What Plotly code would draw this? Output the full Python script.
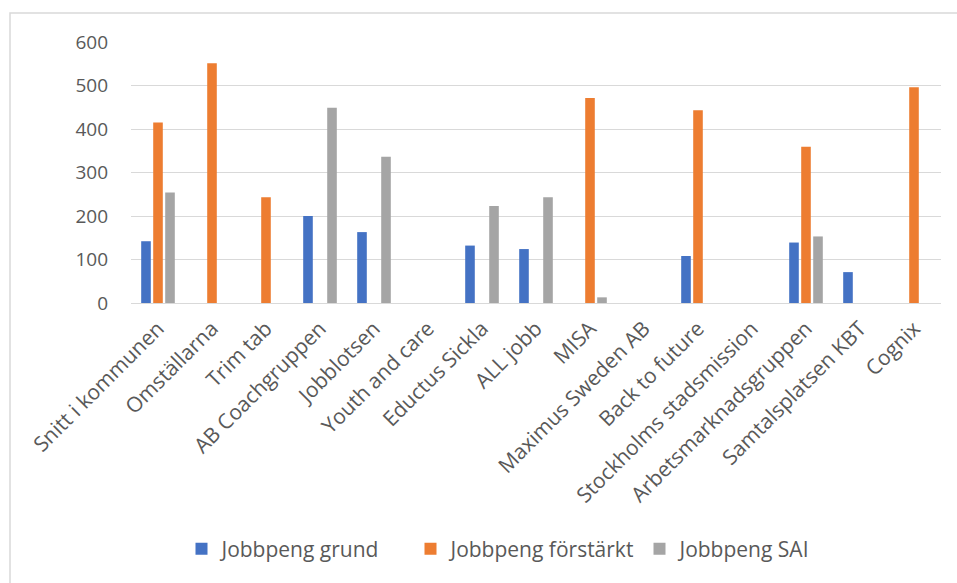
import plotly.graph_objects as go

categories = ["Snitt i kommunen", "Omställarna", "Trim tab", "AB Coachgruppen", "Jobblotsen",
              "Youth and care", "Eductus Sickla", "ALL jobb", "MISA", "Maximus Sweden AB",
              "Back to future", "Stockholms stadsmission", "Arbetsmarknadsgruppen",
              "Samtalsplatsen KBT", "Cognix"]
grund = [142, None, None, 200, 163, None, 132, 124, None, None, 108, None, 139, 71, None]
forstarkt = [415, 551, 243, None, None, None, None, None, 471, None, 443, None, 359, None, 496]
sai = [254, None, None, 449, 336, None, 223, 243, 13, None, None, None, 153, None, None]
series_names = ["Jobbpeng grund", "Jobbpeng förstärkt", "Jobbpeng SAI"]
colors = ["#4472C4", "#ED7D31", "#A5A5A5"]

FONT = "Open Sans"
TXT = "#595959"

fig = go.Figure()
for name, vals, col in zip(series_names, [grund, forstarkt, sai], colors):
    fig.add_trace(go.Bar(x=categories, y=vals, name=name, marker_color=col,
                         marker_line_width=0))

W, H = 957, 583
ml, mr, mt, mb = 131, 16, 42, 280
pw, ph = W - ml - mr, H - mt - mb

def px_to_paper_x(px):
    return (px - ml) / pw

def px_to_paper_y(py):
    return (H - mb - py) / ph

fig.update_layout(
    width=W, height=H,
    margin=dict(l=ml, r=mr, t=mt, b=mb),
    paper_bgcolor="white", plot_bgcolor="white",
    font=dict(family=FONT, color=TXT, size=18),
    barmode="group", bargap=0.333, bargroupgap=0.2,
    showlegend=True,
    legend=dict(orientation="h", x=px_to_paper_x(525), xanchor="center",
                y=px_to_paper_y(549), yanchor="middle",
                font=dict(family=FONT, size=21, color=TXT),
                itemwidth=30, traceorder="normal",
                entrywidth=184, entrywidthmode="pixels"),
    xaxis=dict(tickangle=-45, tickfont=dict(family=FONT, size=21, color=TXT),
               showgrid=False, showline=True, linecolor="#D9D9D9", linewidth=1,
               ticks="", ticklabelstandoff=4),
    yaxis=dict(range=[0, 600], dtick=100, tickfont=dict(family=FONT, size=19, color=TXT),
               showgrid=True, gridcolor="#D9D9D9", gridwidth=1,
               zeroline=True, zerolinecolor="#D9D9D9", zerolinewidth=1,
               showline=False, ticks="", ticklabelstandoff=22),
    shapes=[dict(type="rect", xref="paper", yref="paper",
                 x0=px_to_paper_x(10), x1=px_to_paper_x(965),
                 y0=px_to_paper_y(600), y1=px_to_paper_y(13),
                 line=dict(color="#D9D9D9", width=1.5), fillcolor="rgba(0,0,0,0)",
                 layer="below")],
)

fig.write_html("out.html")
